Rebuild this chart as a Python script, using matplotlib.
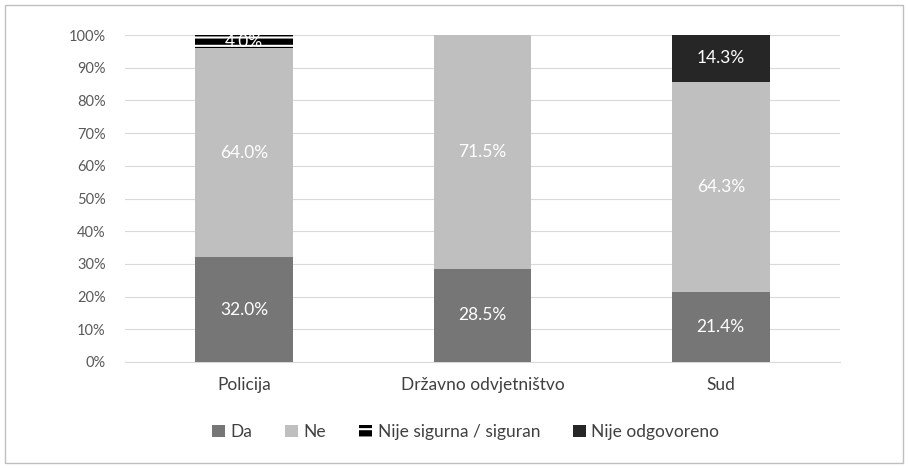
import matplotlib
matplotlib.use("Agg")
import matplotlib.pyplot as plt
from matplotlib.patches import Rectangle
import numpy as np

plt.rcParams['font.family'] = ['Lato', 'DejaVu Sans']
plt.rcParams['hatch.linewidth'] = 1.5

categories = ["Policija", "Državno odvjetništvo", "Sud"]
series_names = ["Da", "Ne", "Nije sigurna / siguran", "Nije odgovoreno"]
da = [32.0, 28.5, 21.4]
ne = [64.0, 71.5, 64.3]
nije_sigurna = [4.0, 0.0, 0.0]
nije_odgovoreno = [0.0, 0.0, 14.3]
yticks = [0, 10, 20, 30, 40, 50, 60, 70, 80, 90, 100]

series = [da, ne, nije_sigurna, nije_odgovoreno]
colors = ["#767676", "#BFBFBF", "#000000", "#262626"]

fig = plt.figure(figsize=(9.08, 4.68), dpi=100)
ax = fig.add_axes([0.1377, 0.2265, 0.7873, 0.6985])

x = np.arange(len(categories))
bottom = np.zeros(len(categories))
handles = []
for i, (name, vals) in enumerate(zip(series_names, series)):
    vals = np.array(vals)
    if i == 2:
        b = ax.bar(x, vals, 0.41, bottom=bottom, color="#000000", edgecolor="white",
                   hatch="--", linewidth=0, label=name, zorder=3)
    else:
        b = ax.bar(x, vals, 0.41, bottom=bottom, color=colors[i], linewidth=0,
                   label=name, zorder=3)
    handles.append(b)
    for xi, v, bt in zip(x, vals, bottom):
        if v > 0:
            ax.text(xi, bt + v / 2, f"{v:.1f}%", ha="center", va="center",
                    color="white", fontsize=12.5, zorder=4)
    bottom += vals

ax.set_xlim(-0.5, 2.5)
ax.set_ylim(0, 100)
ax.set_yticks(yticks)
ax.set_yticklabels([f"{t}%" for t in yticks], fontsize=10.5, color="#595959")
ax.set_xticks(x)
ax.set_xticklabels(categories, fontsize=12.5, color="#404040")
ax.yaxis.grid(True, color="#D9D9D9", linewidth=0.8, zorder=0)
ax.tick_params(axis="both", length=0)
ax.tick_params(axis="y", pad=14)
ax.tick_params(axis="x", pad=11)
for s in ["top", "right", "left"]:
    ax.spines[s].set_visible(False)
ax.spines["bottom"].set_color("#D9D9D9")
ax.set_axisbelow(True)

leg = fig.legend(handles=handles, labels=series_names, loc="center",
                 bbox_to_anchor=(0.513, 0.077), ncol=4, frameon=False,
                 fontsize=12.5, handlelength=0.75, handleheight=0.75,
                 handletextpad=0.3, columnspacing=1.9)
for t in leg.get_texts():
    t.set_color("#404040")

fig.patches.append(Rectangle((0.006, 0.01), 0.988, 0.98, transform=fig.transFigure,
                             fill=False, edgecolor="#BFBFBF", linewidth=1))

fig.savefig("out.png", dpi=100)
